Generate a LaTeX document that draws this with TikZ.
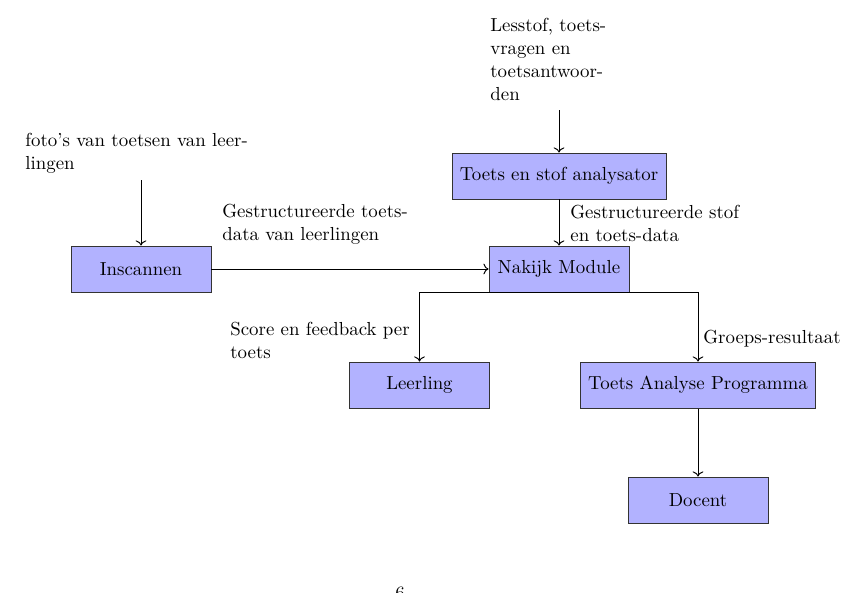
\documentclass[tikz,border=0pt]{standalone}
\usetikzlibrary{arrows.meta}
\begin{document}
\begin{tikzpicture}[x=0.53pt,y=-0.53pt,
  box/.style={draw=black!80,fill=blue!30,minimum width=74.2pt,minimum height=24.4pt,inner sep=0pt,line width=0.5pt},
  lbl/.style={anchor=north west,inner sep=0pt,align=left,font=\fontsize{10}{12.2}\selectfont},
  conn/.style={->,line width=0.5pt}]
\useasboundingbox (0,0) rectangle (848,592);
\node[box] (ins) at (141,269) {Inscannen};
\node[box,minimum width=113.4pt] (tsa) at (559,176) {Toets en stof analysator};
\node[box] (nak) at (559,269) {Nakijk Module};
\node[box] (leer) at (419.5,385) {Leerling};
\node[box,minimum width=125pt] (tap) at (698,385) {Toets Analyse Programma};
\node[box] (doc) at (698,500) {Docent};
\node[lbl] (foto) at (25,133) {foto's van toetsen van leer-\\lingen};
\node[lbl] (less) at (490,18) {Lesstof, toets-\\vragen en\\toetsantwoor-\\den};
\node[lbl] (gtd) at (222,204) {Gestructureerde toets-\\data van leerlingen};
\node[lbl] (gsd) at (570,205) {Gestructureerde stof\\en toets-data};
\node[lbl] (sfb) at (230,322) {Score en feedback per\\toets};
\node[lbl] (grp) at (703,330) {Groeps-resultaat};
\node[anchor=north,inner sep=0pt] (pg) at (400,587) {6};
\coordinate (fotoend) at (141,180);
\coordinate (lessend) at (559,110);
\draw[conn] (fotoend) -- (ins.north);
\draw[conn] (lessend) -- (tsa.north);
\draw[conn] (ins.east) -- (nak.west);
\draw[conn] (tsa.south) -- (nak.north);
\draw[conn] (nak.south) -| (leer.north);
\draw[conn] (nak.south) -| (tap.north);
\draw[conn] (tap.south) -- (doc.north);
\end{tikzpicture}
\end{document}
